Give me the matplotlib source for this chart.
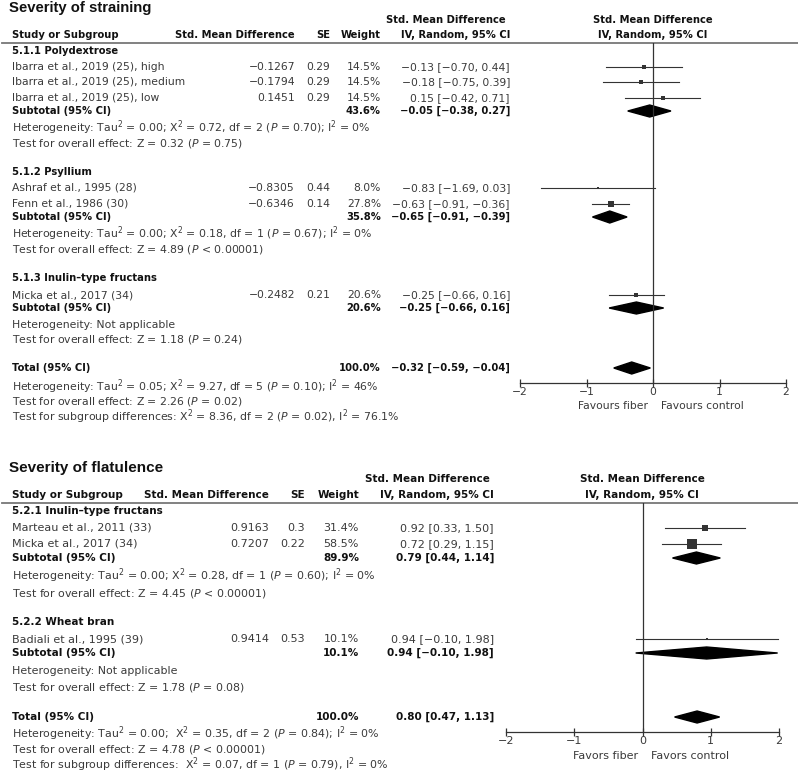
import matplotlib.pyplot as plt
from matplotlib.patches import Polygon

plt.rcParams['font.family'] = ['DejaVu Sans']
plt.rcParams['mathtext.fontset'] = 'custom'
plt.rcParams['mathtext.rm'] = 'DejaVu Sans'
plt.rcParams['mathtext.it'] = 'DejaVu Sans:italic'
plt.rcParams['mathtext.bf'] = 'DejaVu Sans:bold'

W, H = 798, 774
GREY = '#3a3a3a'
DARK = '#111111'

# ---------------- Severity of straining ----------------
s_title = "Severity of straining"
s_groups = ["5.1.1 Polydextrose", "5.1.2 Psyllium", "5.1.3 Inulin\u2013type fructans"]
s_study = ["Ibarra et al., 2019 (25), high", "Ibarra et al., 2019 (25), medium",
           "Ibarra et al., 2019 (25), low", "Ashraf et al., 1995 (28)",
           "Fenn et al., 1986 (30)", "Micka et al., 2017 (34)"]
s_smd = [-0.1267, -0.1794, 0.1451, -0.8305, -0.6346, -0.2482]
s_se = [0.29, 0.29, 0.29, 0.44, 0.14, 0.21]
s_weight = [14.5, 14.5, 14.5, 8.0, 27.8, 20.6]
s_est = [-0.13, -0.18, 0.15, -0.83, -0.63, -0.25]
s_lo = [-0.70, -0.75, -0.42, -1.69, -0.91, -0.66]
s_hi = [0.44, 0.39, 0.71, 0.03, -0.36, 0.16]
s_sub_weight = [43.6, 35.8, 20.6]
s_sub_est = [-0.05, -0.65, -0.25]
s_sub_lo = [-0.38, -0.91, -0.66]
s_sub_hi = [0.27, -0.39, 0.16]
s_sub_het = [r"Heterogeneity: Tau$^2$ = 0.00; X$^2$ = 0.72, df = 2 ($P$ = 0.70); I$^2$ = 0%",
             r"Heterogeneity: Tau$^2$ = 0.00; X$^2$ = 0.18, df = 1 ($P$ = 0.67); I$^2$ = 0%",
             "Heterogeneity: Not applicable"]
s_sub_test = [r"Test for overall effect: Z = 0.32 ($P$ = 0.75)",
              r"Test for overall effect: Z = 4.89 ($P$ < 0.00001)",
              r"Test for overall effect: Z = 1.18 ($P$ = 0.24)"]
s_tot_weight = 100.0
s_tot_est, s_tot_lo, s_tot_hi = -0.32, -0.59, -0.04
s_tot_notes = [r"Heterogeneity: Tau$^2$ = 0.05; X$^2$ = 9.27, df = 5 ($P$ = 0.10); I$^2$ = 46%",
               r"Test for overall effect: Z = 2.26 ($P$ = 0.02)",
               r"Test for subgroup differences: X$^2$ = 8.36, df = 2 ($P$ = 0.02), I$^2$ = 76.1%"]
s_fav = ["Favours fiber", "Favours control"]

# ---------------- Severity of flatulence ----------------
f_title = "Severity of flatulence"
f_groups = ["5.2.1 Inulin\u2013type fructans", "5.2.2 Wheat bran"]
f_study = ["Marteau et al., 2011 (33)", "Micka et al., 2017 (34)", "Badiali et al., 1995 (39)"]
f_smd = [0.9163, 0.7207, 0.9414]
f_se = [0.3, 0.22, 0.53]
f_weight = [31.4, 58.5, 10.1]
f_est = [0.92, 0.72, 0.94]
f_lo = [0.33, 0.29, -0.10]
f_hi = [1.50, 1.15, 1.98]
f_sub_weight = [89.9, 10.1]
f_sub_est = [0.79, 0.94]
f_sub_lo = [0.44, -0.10]
f_sub_hi = [1.14, 1.98]
f_sub_het = [r"Heterogeneity: Tau$^2$ = 0.00; X$^2$ = 0.28, df = 1 ($P$ = 0.60); I$^2$ = 0%",
             "Heterogeneity: Not applicable"]
f_sub_test = [r"Test for overall effect: Z = 4.45 ($P$ < 0.00001)",
              r"Test for overall effect: Z = 1.78 ($P$ = 0.08)"]
f_tot_weight = 100.0
f_tot_est, f_tot_lo, f_tot_hi = 0.80, 0.47, 1.13
f_tot_notes = [r"Heterogeneity: Tau$^2$ = 0.00;  X$^2$ = 0.35, df = 2 ($P$ = 0.84); I$^2$ = 0%",
               r"Test for overall effect: Z = 4.78 ($P$ < 0.00001)",
               r"Test for subgroup differences:  X$^2$ = 0.07, df = 1 ($P$ = 0.79), I$^2$ = 0%"]
f_fav = ["Favors fiber", "Favors control"]

ticks = [-2, -1, 0, 1, 2]


def m(v, fmt):
    return format(v, fmt).replace('-', '\u2212')


def ci(e, lo, hi):
    return f"{m(e, '.2f')} [{m(lo, '.2f')}, {m(hi, '.2f')}]"


fig = plt.figure(figsize=(W / 100, H / 100), dpi=100)
bg = fig.add_axes([0, 0, 1, 1])
bg.set_xlim(0, W)
bg.set_ylim(H, 0)
bg.axis('off')


def panel(lay, title, groups, study, smd, se, weight, est, lo, hi,
          sub_w, sub_e, sub_lo, sub_hi, sub_het, sub_test,
          tot_w, tot_e, tot_lo, tot_hi, tot_notes, fav):
    fs = lay['fs']          # bold text
    rs = fs * 1.07          # regular text
    ns = fs * lay['nscale']  # notes
    cx = lay['cols']
    bg.text(9, lay['title'], title, fontsize=lay['tfs'], fontweight='bold',
            family='Liberation Sans', va='center', color=DARK)
    # header
    bg.text(cx['ci_head'], lay['h1'], "Std. Mean Difference", fontsize=fs, fontweight='bold',
            ha='center', va='center', color=DARK)
    bg.text(cx['plot'], lay['h1'], "Std. Mean Difference", fontsize=fs, fontweight='bold',
            ha='center', va='center', color=DARK)
    bg.text(12, lay['h2'], "Study or Subgroup", fontsize=fs, fontweight='bold', va='center', color=DARK)
    bg.text(cx['smd'], lay['h2'], "Std. Mean Difference", fontsize=fs, fontweight='bold',
            ha='right', va='center', color=DARK)
    bg.text(cx['se'], lay['h2'], "SE", fontsize=fs, fontweight='bold', ha='right', va='center', color=DARK)
    bg.text(cx['w'], lay['h2'], "Weight", fontsize=fs, fontweight='bold', ha='right', va='center', color=DARK)
    bg.text(cx['ci'], lay['h2'], "IV, Random, 95% CI", fontsize=fs, fontweight='bold',
            ha='right', va='center', color=DARK)
    bg.text(cx['plot'], lay['h2'], "IV, Random, 95% CI", fontsize=fs, fontweight='bold',
            ha='center', va='center', color=DARK)
    bg.plot([2, W], [lay['line'], lay['line']], color='#777777', lw=1.3)

    x0, x1 = lay['x']
    ax = fig.add_axes([x0 / W, 1 - lay['axis'] / H, (x1 - x0) / W, (lay['axis'] - lay['line']) / H])
    ax.set_xlim(-2, 2)
    ax.set_ylim(lay['axis'], lay['line'])
    ax.patch.set_alpha(0)
    for s in ['top', 'left', 'right']:
        ax.spines[s].set_visible(False)
    ax.spines['bottom'].set_linewidth(0.9)
    ax.spines['bottom'].set_color('#333333')
    ax.set_yticks([])
    ax.set_xticks(ticks)
    ax.tick_params(axis='x', direction='inout', length=5.5, width=0.9, colors='#333333',
                   labelsize=rs, pad=0, labelcolor=GREY)
    ax.axvline(0, color='#333333', lw=0.9)

    for g in range(len(groups)):
        bg.text(12, lay['group'][g], groups[g], fontsize=fs, fontweight='bold', va='center', color=DARK)
        for k in range(len(study)):
            if lay['member'][k] != g:
                continue
            y = lay['study'][k]
            bg.text(12, y, study[k], fontsize=rs, va='center', color=GREY)
            bg.text(cx['smd'], y, m(smd[k], 'g'), fontsize=rs, ha='right', va='center', color=GREY)
            bg.text(cx['se'], y, str(se[k]), fontsize=rs, ha='right', va='center', color=GREY)
            bg.text(cx['w'], y, f"{weight[k]:.1f}%", fontsize=rs, ha='right', va='center', color=GREY)
            bg.text(cx['ci'], y, ci(est[k], lo[k], hi[k]), fontsize=rs, ha='right', va='center', color=GREY)
            ax.plot([lo[k], hi[k]], [y, y], color='#333333', lw=0.8, clip_on=False)
            side = 0.45 * weight[k] ** 0.75
            ax.plot(est[k], y, 's', ms=side * 0.72, color='#333333', mew=0, clip_on=False)
        y = lay['sub'][g]
        bg.text(12, y, "Subtotal (95% CI)", fontsize=fs, fontweight='bold', va='center', color=DARK)
        bg.text(cx['w'], y, f"{sub_w[g]:.1f}%", fontsize=fs, fontweight='bold', ha='right', va='center', color=DARK)
        bg.text(cx['ci'], y, ci(sub_e[g], sub_lo[g], sub_hi[g]), fontsize=fs, fontweight='bold',
                ha='right', va='center', color=DARK)
        ax.add_patch(Polygon([(sub_lo[g], y), (sub_e[g], y - 6), (sub_hi[g], y), (sub_e[g], y + 6)],
                             closed=True, color='black', clip_on=False))
        bg.text(12, lay['het'][g], sub_het[g], fontsize=ns, va='center', color=GREY)
        bg.text(12, lay['test'][g], sub_test[g], fontsize=ns, va='center', color=GREY)

    y = lay['total']
    bg.text(12, y, "Total (95% CI)", fontsize=fs, fontweight='bold', va='center', color=DARK)
    bg.text(cx['w'], y, f"{tot_w:.1f}%", fontsize=fs, fontweight='bold', ha='right', va='center', color=DARK)
    bg.text(cx['ci'], y, ci(tot_e, tot_lo, tot_hi), fontsize=fs, fontweight='bold',
            ha='right', va='center', color=DARK)
    ax.add_patch(Polygon([(tot_lo, y), (tot_e, y - 6), (tot_hi, y), (tot_e, y + 6)],
                         closed=True, color='black', clip_on=False))
    for k in range(len(tot_notes)):
        bg.text(12, lay['notes'][k], tot_notes[k], fontsize=ns, va='center', color=GREY)

    ax.text(-0.07, lay['fav'], fav[0], fontsize=rs, ha='right', va='center', color=GREY, clip_on=False)
    ax.text(0.12, lay['fav'], fav[1], fontsize=rs, ha='left', va='center', color=GREY, clip_on=False)


top_layout = dict(
    fs=7.2, tfs=10.7, nscale=1.09, title=8, h1=20, h2=35, line=43, axis=383, fav=406,
    x=(520, 786),
    cols=dict(smd=295, se=330, w=381, ci=510, ci_head=446, plot=653),
    group=[51, 172, 278],
    member=[0, 0, 0, 1, 1, 2],
    study=[67, 82, 98, 188, 204, 295],
    sub=[111, 217, 308],
    het=[128, 234, 325],
    test=[144, 249, 340],
    total=368,
    notes=[387, 402, 417],
)

bottom_layout = dict(
    fs=7.5, tfs=11.0, nscale=1.06, title=468, h1=479, h2=495, line=503, axis=732, fav=756,
    x=(506, 779),
    cols=dict(smd=269, se=305, w=359, ci=494, ci_head=427, plot=642),
    group=[511, 622],
    member=[0, 0, 1],
    study=[528, 544, 639],
    sub=[558, 653],
    het=[576, 671],
    test=[593, 687],
    total=717,
    notes=[734, 749, 765],
)

panel(top_layout, s_title, s_groups, s_study, s_smd, s_se, s_weight, s_est, s_lo, s_hi,
      s_sub_weight, s_sub_est, s_sub_lo, s_sub_hi, s_sub_het, s_sub_test,
      s_tot_weight, s_tot_est, s_tot_lo, s_tot_hi, s_tot_notes, s_fav)
panel(bottom_layout, f_title, f_groups, f_study, f_smd, f_se, f_weight, f_est, f_lo, f_hi,
      f_sub_weight, f_sub_est, f_sub_lo, f_sub_hi, f_sub_het, f_sub_test,
      f_tot_weight, f_tot_est, f_tot_lo, f_tot_hi, f_tot_notes, f_fav)

fig.savefig("out.png", dpi=100)
